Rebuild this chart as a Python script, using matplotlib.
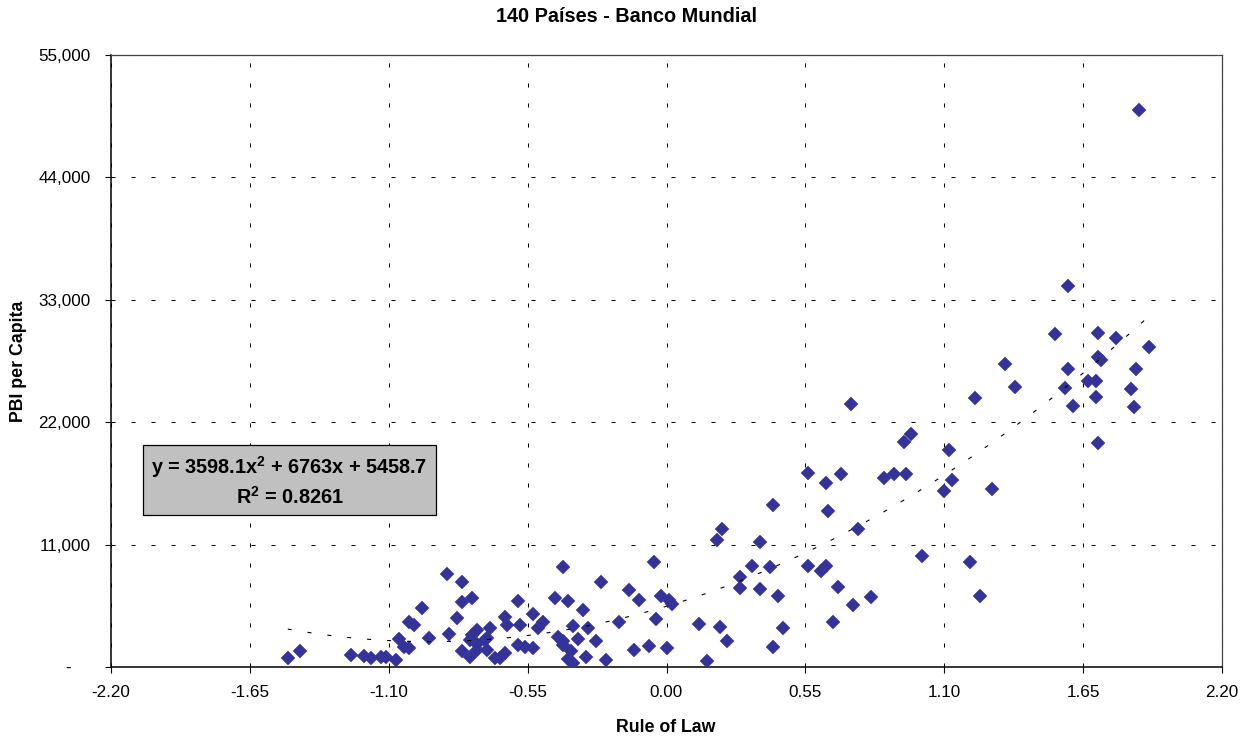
import numpy as np
import matplotlib
matplotlib.use("Agg")
import matplotlib.pyplot as plt
from matplotlib.patches import Rectangle
from matplotlib.transforms import ScaledTranslation

plt.rcParams['font.family'] = ['Liberation Sans', 'DejaVu Sans']
plt.rcParams['mathtext.fontset'] = 'custom'
plt.rcParams['mathtext.bf'] = 'Liberation Sans:bold'
plt.rcParams['mathtext.rm'] = 'Liberation Sans:bold'
plt.rcParams['lines.scale_dashes'] = False

# Rule of Law index per country (x) and GDP per capita (y)
rule_of_law = [
    -1.50, -1.45, -1.25, -1.20, -1.17, -1.13, -1.11, -1.07, -1.06, -1.04,
    -1.02, -1.02, -1.00, -0.97, -0.94, -0.87, -0.81, -0.81, -0.77, -0.83,
    -0.86, -0.81, -0.78, -0.78, -0.77, -0.75, -0.75, -0.75, -0.72, -0.71,
    -0.70, -0.71, -0.68, -0.66, -0.64, -0.64, -0.63, -0.59, -0.58, -0.59,
    -0.56, -0.53, -0.53, -0.49, -0.51, -0.41, -0.44, -0.39, -0.33, -0.37,
    -0.43, -0.41, -0.41, -0.35, -0.31, -0.28, -0.38, -0.39, -0.37, -0.32,
    -0.24, -0.26, -0.15, -0.11, -0.19, -0.13, -0.07, -0.05, -0.02, 0.01,
    0.02, -0.04, 0.00,
    0.73, 1.22, 0.97, 0.94, 1.12, 1.13, 1.10, 1.29, 0.56, 0.63,
    0.69, 0.86, 0.90, 0.95, 0.42, 0.64, 0.22, 0.20, 0.37, 0.76,
    1.01, 1.20, 1.24, 0.56, 0.34, 0.41, 0.61, 0.63, 0.29, 0.29,
    0.37, 0.44, 0.68, 0.74, 0.81, 0.66, 0.46, 0.13, 0.21, 0.24,
    0.42, 0.16,
    1.59, 1.54, 1.71, 1.78, 1.91, 1.71, 1.72, 1.59, 1.86, 1.34,
    1.38, 1.58, 1.67, 1.70, 1.84, 1.70, 1.61, 1.85, 1.71, 1.87,
]
gdp_per_capita = [
    800, 1400, 1100, 1000, 800, 900, 900, 600, 2500, 1800,
    1700, 4000, 3800, 5300, 2600, 8400, 7600, 5800, 6200, 4400,
    3000, 1400, 900, 2400, 2900, 3300, 2100, 1500, 2400, 1500,
    3500, 2600, 800, 800, 1300, 4500, 3800, 5900, 3800, 2000,
    1800, 1700, 4800, 4000, 3500, 9000, 6200, 5900, 5100, 3700,
    2700, 2300, 2000, 2500, 3500, 2300, 1400, 700, 400, 900,
    600, 7600, 6900, 6000, 4000, 1500, 1900, 9400, 6400, 6000,
    5700, 4300, 1700,
    23600, 24200, 20900, 20200, 19500, 16800, 15800, 16000, 17400, 16500,
    17300, 17000, 17300, 17300, 14600, 14000, 12400, 11400, 11200, 12400,
    10000, 9400, 6400, 9100, 9100, 9000, 8600, 9100, 8100, 7100,
    7000, 6400, 7200, 5600, 6300, 4000, 3500, 3900, 3600, 2300,
    1800, 500,
    34200, 29900, 30000, 29600, 28800, 27900, 27600, 26800, 26800, 27200,
    25200, 25100, 25700, 25700, 25000, 24300, 23500, 23400, 20100, 50100,
]

# polynomial trendline coefficients as printed on the chart
trend_coef = [3598.1, 6763, 5458.7]
trend_label = 'y = 3598.1x$^{\\mathbf{2}}$ + 6763x + 5458.7'
r2_label = 'R$^{\\mathbf{2}}$ = 0.8261'

x_ticks = [-2.20, -1.65, -1.10, -0.55, 0.00, 0.55, 1.10, 1.65, 2.20]
y_ticks = [0, 11000, 22000, 33000, 44000, 55000]
y_tick_labels = ['-', '11,000', '22,000', '33,000', '44,000', '55,000']

fig = plt.figure(figsize=(12.52, 7.42), dpi=100)
ax = fig.add_axes([111 / 1252, 1 - 667 / 742, 1111 / 1252, 612 / 742])

grid_dash = (0, (2.9, 11.5))
for xv in x_ticks:
    ax.axvline(xv, color='black', lw=0.75, ls=grid_dash, zorder=1)
for yv in y_ticks:
    ax.axhline(yv, color='black', lw=0.75, ls=grid_dash, zorder=1)

ax.plot(rule_of_law, gdp_per_capita, ls='none', marker='D', ms=7.2,
        mfc='#333399', mec='#333399', mew=0.3, zorder=3)

xs = np.linspace(min(rule_of_law), max(rule_of_law), 200)
ax.plot(xs, np.polyval(trend_coef, xs), color='black', lw=0.8,
        ls=(0, (2.9, 11.5)), zorder=4)

ax.set_xlim(-2.2, 2.2)
ax.set_ylim(0, 55000)
ax.set_xticks(x_ticks)
ax.set_xticklabels(['%.2f' % v for v in x_ticks])
ax.set_yticks(y_ticks)
ax.set_yticklabels(y_tick_labels)
ax.tick_params(direction='out', length=4, width=0.8, labelsize=12.3,
               colors='black')
ax.tick_params(axis='x', pad=9)
ax.tick_params(axis='y', pad=10.5)

# the zero label ("-") sits further left, like Excel's accounting format
zero_lab = ax.get_yticklabels()[0]
zero_lab.set_transform(zero_lab.get_transform() +
                       ScaledTranslation(-0.2, 0, fig.dpi_scale_trans))

for side in ['left', 'bottom']:
    ax.spines[side].set_color('black')
    ax.spines[side].set_linewidth(1.1)
for side in ['top', 'right']:
    ax.spines[side].set_color('#444444')
    ax.spines[side].set_linewidth(0.9)

# equation box
ax.add_patch(Rectangle((0.0288, 0.2484), 0.2637, 0.1143, transform=ax.transAxes,
                       facecolor='#C0C0C0', edgecolor='black', lw=0.9, zorder=5))
ax.text(0.1607, 0.3273, trend_label, transform=ax.transAxes, ha='center',
        va='center', fontsize=14.3, fontweight='bold', zorder=6)
ax.text(0.1607, 0.2783, r2_label, transform=ax.transAxes, ha='center',
        va='center', fontsize=14.3, fontweight='bold', zorder=6)

fig.text(626 / 1252, 1 - 16 / 742, '140 Países - Banco Mundial', ha='center',
         va='center', fontsize=14.3, fontweight='bold')
fig.text(666 / 1252, 1 - 728 / 742, 'Rule of Law', ha='center', va='center',
         fontsize=12.8, fontweight='bold')
fig.text(19 / 1252, 1 - 361 / 742, 'PBI per Capita', ha='center', va='center',
         rotation=90, fontsize=12.8, fontweight='bold')

fig.savefig('out.png', dpi=100)
